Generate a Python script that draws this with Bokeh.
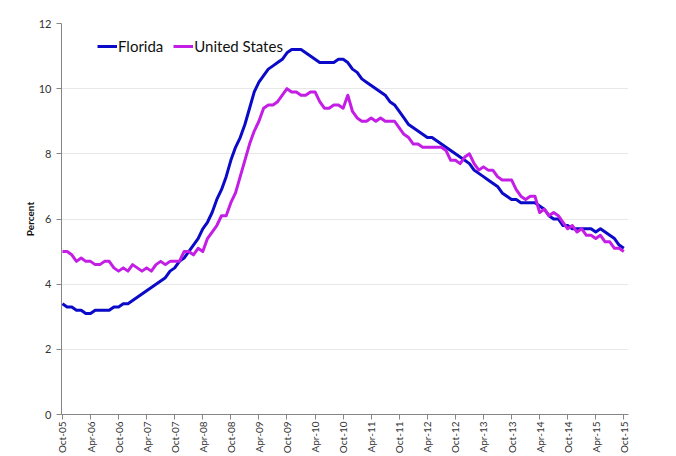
import math
from bokeh.plotting import figure
from bokeh.models import Range1d, FixedTicker, Legend, LegendItem, ColumnDataSource
from bokeh.embed import file_html
from bokeh.resources import INLINE

tick_labels = ["Oct-05", "Apr-06", "Oct-06", "Apr-07", "Oct-07", "Apr-08", "Oct-08",
               "Apr-09", "Oct-09", "Apr-10", "Oct-10", "Apr-11", "Oct-11", "Apr-12",
               "Oct-12", "Apr-13", "Oct-13", "Apr-14", "Oct-14", "Apr-15", "Oct-15"]

florida = [
    3.4, 3.3, 3.3,
    3.2, 3.2, 3.1, 3.1, 3.2, 3.2, 3.2, 3.2, 3.3, 3.3, 3.4, 3.4,
    3.5, 3.6, 3.7, 3.8, 3.9, 4.0, 4.1, 4.2, 4.4, 4.5, 4.7, 4.8,
    5.0, 5.2, 5.4, 5.7, 5.9, 6.2, 6.6, 6.9, 7.3, 7.8, 8.2, 8.5,
    8.9, 9.4, 9.9, 10.2, 10.4, 10.6, 10.7, 10.8, 10.9, 11.1, 11.2, 11.2,
    11.2, 11.1, 11.0, 10.9, 10.8, 10.8, 10.8, 10.8, 10.9, 10.9, 10.8, 10.6,
    10.5, 10.3, 10.2, 10.1, 10.0, 9.9, 9.8, 9.6, 9.5, 9.3, 9.1, 8.9,
    8.8, 8.7, 8.6, 8.5, 8.5, 8.4, 8.3, 8.2, 8.1, 8.0, 7.9, 7.8,
    7.7, 7.5, 7.4, 7.3, 7.2, 7.1, 7.0, 6.8, 6.7, 6.6, 6.6, 6.5,
    6.5, 6.5, 6.5, 6.4, 6.3, 6.1, 6.0, 6.0, 5.8, 5.8, 5.7, 5.7,
    5.7, 5.7, 5.7, 5.6, 5.7, 5.6, 5.5, 5.4, 5.2, 5.1,
]

united_states = [
    5.0, 5.0, 4.9,
    4.7, 4.8, 4.7, 4.7, 4.6, 4.6, 4.7, 4.7, 4.5, 4.4, 4.5, 4.4,
    4.6, 4.5, 4.4, 4.5, 4.4, 4.6, 4.7, 4.6, 4.7, 4.7, 4.7, 5.0,
    5.0, 4.9, 5.1, 5.0, 5.4, 5.6, 5.8, 6.1, 6.1, 6.5, 6.8, 7.3,
    7.8, 8.3, 8.7, 9.0, 9.4, 9.5, 9.5, 9.6, 9.8, 10.0, 9.9, 9.9,
    9.8, 9.8, 9.9, 9.9, 9.6, 9.4, 9.4, 9.5, 9.5, 9.4, 9.8, 9.3,
    9.1, 9.0, 9.0, 9.1, 9.0, 9.1, 9.0, 9.0, 9.0, 8.8, 8.6, 8.5,
    8.3, 8.3, 8.2, 8.2, 8.2, 8.2, 8.2, 8.1, 7.8, 7.8, 7.7, 7.9,
    8.0, 7.7, 7.5, 7.6, 7.5, 7.5, 7.3, 7.2, 7.2, 7.2, 6.9, 6.7,
    6.6, 6.7, 6.7, 6.2, 6.3, 6.1, 6.2, 6.1, 5.9, 5.7, 5.8, 5.6,
    5.7, 5.5, 5.5, 5.4, 5.5, 5.3, 5.3, 5.1, 5.1, 5.0,
]

y_ticks = [0, 2, 4, 6, 8, 10, 12]
tick_step = 6

months = list(range(len(florida)))
src = ColumnDataSource(data=dict(m=months, fl=florida, us=united_states))

FONT = "Lato"

p = figure(width=676, height=456, output_backend="svg", toolbar_location=None,
           x_range=Range1d(-0.2, 121), y_range=Range1d(0, 12),
           min_border_left=61, min_border_right=48, min_border_top=23,
           min_border_bottom=41)
p.outline_line_color = None
p.background_fill_color = "white"
p.border_fill_color = "white"

r_fl = p.line("m", "fl", source=src, line_color="#0A0AC8", line_width=3,
              line_join="round")
r_us = p.line("m", "us", source=src, line_color="#C41EE6", line_width=3,
              line_join="round")

# axes
xticks = [i * tick_step for i in range(len(tick_labels))]
p.xaxis.ticker = FixedTicker(ticks=xticks)
p.xaxis.major_label_overrides = {t: lab for t, lab in zip(xticks, tick_labels)}
p.xaxis.major_label_orientation = math.pi / 2
p.xaxis.major_label_text_font = FONT
p.xaxis.major_label_text_font_size = "10px"
p.xaxis.major_label_text_color = "#333333"
p.xaxis.major_label_standoff = 2
p.xaxis.major_tick_out = 5
p.xaxis.major_tick_in = 0
p.xaxis.minor_tick_line_color = None
p.xaxis.axis_line_color = "#868686"
p.xaxis.major_tick_line_color = "#868686"

p.yaxis.ticker = FixedTicker(ticks=y_ticks)
p.yaxis.major_label_text_font = FONT
p.yaxis.major_label_text_font_size = "11px"
p.yaxis.major_label_text_color = "#333333"
p.yaxis.major_label_standoff = 5
p.yaxis.major_tick_out = 5
p.yaxis.major_tick_in = 0
p.yaxis.minor_tick_line_color = None
p.yaxis.axis_line_color = "#868686"
p.yaxis.major_tick_line_color = "#868686"
p.yaxis.axis_label = "Percent"
p.yaxis.axis_label_text_font = FONT
p.yaxis.axis_label_text_font_style = "bold"
p.yaxis.axis_label_text_font_size = "10px"
p.yaxis.axis_label_text_color = "#111111"
p.yaxis.axis_label_standoff = 0

p.xgrid.grid_line_color = None
p.ygrid.grid_line_color = "#E8E8E8"
p.ygrid.grid_line_width = 1

legend = Legend(items=[LegendItem(label="Florida", renderers=[r_fl]),
                       LegendItem(label="United States", renderers=[r_us])],
                orientation="horizontal", location=(36, 359),
                label_text_font=FONT, label_text_font_size="15px",
                label_text_color="#111111", glyph_width=20, glyph_height=18,
                label_standoff=1, spacing=10, padding=0, margin=0,
                border_line_color=None, background_fill_alpha=0)
p.add_layout(legend)

open("out.html", "w").write(file_html(p, INLINE))
